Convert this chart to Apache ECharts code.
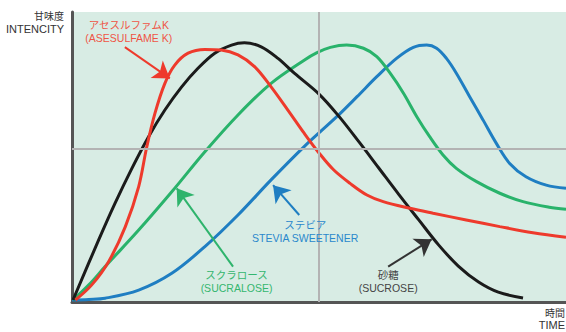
<!DOCTYPE html>
<html>
<head>
<meta charset="utf-8">
<script src="https://cdn.jsdelivr.net/npm/echarts@6/dist/echarts.min.js"></script>
<style>
  html, body { margin: 0; padding: 0; background: #ffffff; }
  #chart { width: 566px; height: 332px; }
</style>
</head>
<body>
<div id="chart"></div>
<script>
// Sweetness intensity over time, [time, intensity] on a 0–100 scale
const acesulfameK = [
  [0.7, 0.7], [4.0, 5.9], [7.4, 13.9], [10.8, 26.0], [13.5, 39.8], [15.1, 53.2], [16.8, 65.1],
  [18.8, 75.4], [20.8, 81.7], [23.5, 85.8], [26.9, 87.1], [30.2, 86.9], [33.6, 85.2],
  [37.0, 81.1], [40.3, 74.2], [43.7, 66.2], [47.0, 58.2], [50.0, 51.4], [53.0, 45.5],
  [56.3, 40.9], [59.7, 36.9], [63.0, 34.6], [68.4, 32.3], [73.1, 30.6], [79.8, 28.3],
  [86.6, 26.0], [93.3, 23.9], [100, 22.3]
];
const sucrose = [
  [0.2, 0.7], [5.4, 21.4], [8.7, 34.0], [12.1, 46.0], [15.5, 57.0], [18.8, 66.2],
  [22.2, 74.2], [25.5, 80.6], [28.9, 85.8], [32.3, 88.6], [34.9, 89.4], [38.3, 88.0],
  [41.7, 84.0], [45.0, 78.9], [50.0, 71.7], [54.0, 64.1], [58.1, 55.2], [62.1, 46.2],
  [66.1, 37.2], [70.2, 28.3], [74.2, 19.7], [78.2, 12.4], [82.3, 6.9], [86.3, 3.4], [91.3, 1.4]
];
const sucralose = [
  [0.2, 0.7], [3.4, 5.9], [6.7, 12.2], [13.5, 24.8], [20.2, 38.0], [26.9, 51.8], [33.6, 64.5],
  [40.3, 75.4], [47.0, 83.4], [49.6, 86.0], [52.3, 87.8], [55.6, 88.6], [59.0, 87.5],
  [61.7, 84.6], [64.4, 78.9], [67.1, 72.0], [69.8, 63.9], [72.4, 57.0], [75.1, 50.7],
  [77.8, 46.1], [81.9, 41.5], [86.6, 37.5], [91.3, 34.6], [96.6, 32.7], [100, 32.0]
];
const stevia = [
  [0, 0.7], [3.4, 0.9], [6.7, 1.3], [13.5, 4.1], [20.2, 9.9], [26.9, 19.1], [33.6, 30.0],
  [40.3, 42.1], [47.0, 53.6], [53.6, 63.9], [57.7, 70.8], [61.7, 77.7], [65.7, 84.0],
  [69.1, 87.8], [71.8, 88.6], [73.8, 87.5], [75.8, 84.0], [77.8, 78.9], [80.5, 70.8],
  [83.2, 62.8], [85.9, 54.7], [88.6, 47.8], [91.9, 43.2], [96.0, 40.3], [100, 39.2]
];

// Callout text, label anchor and pointer arrow (from → to) for each curve
const calloutText = {
  acesulfameK: ['アセスルファムK', '(ASESULFAME K)'],
  sucralose: ['スクラロース', '(SUCRALOSE)'],
  stevia: ['ステビア', 'STEVIA SWEETENER'],
  sucrose: ['砂糖', '(SUCROSE)']
};
const calloutAnchor = {
  acesulfameK: [11.5, 93.2],
  sucralose: [33.3, 7.2],
  stevia: [47.2, 24.3],
  sucrose: [64.0, 7.1]
};
const calloutArrow = {
  acesulfameK: [[10.7, 87.9], [19.8, 77.1]],
  sucralose: [[32.6, 12.2], [21.2, 39.2]],
  stevia: [[46.0, 30.0], [40.7, 40.3]],
  sucrose: [[64.0, 12.2], [72.8, 21.6]]
};
const midTime = 50;
const midIntensity = 53;

const FONT = '"Liberation Sans", "Noto Sans CJK JP", sans-serif';

function curve(name, data, lineColor, textColor, arrowColor) {
  const a = calloutArrow[name];
  return {
    type: 'line',
    name: name,
    data: data,
    smooth: 0.35,
    symbol: 'none',
    silent: true,
    lineStyle: { color: lineColor, width: 3 },
    markLine: {
      silent: true,
      symbol: ['none', 'arrow'],
      symbolSize: 16,
      label: { show: false },
      lineStyle: { color: arrowColor, width: 2, type: 'solid' },
      data: [[{ coord: a[0] }, { coord: a[1] }]]
    },
    markPoint: {
      silent: true,
      symbol: 'circle',
      symbolSize: 0,
      data: [{
        coord: calloutAnchor[name],
        label: {
          show: true,
          position: 'inside',
          formatter: calloutText[name].join('\n'),
          color: textColor,
          fontFamily: FONT,
          fontSize: 10.5,
          lineHeight: 12.8,
          align: 'center'
        }
      }]
    }
  };
}

const chart = echarts.init(document.getElementById('chart'), null, { renderer: 'svg' });

chart.setOption({
  animation: false,
  backgroundColor: '#ffffff',
  grid: {
    left: 72, top: 12, width: 496, height: 290,
    show: true, backgroundColor: '#d8ece4', borderWidth: 0
  },
  xAxis: {
    type: 'value', min: 0, max: 100,
    axisLine: { show: true, onZero: false, lineStyle: { color: '#555555', width: 3 } },
    axisTick: { show: false }, axisLabel: { show: false }, splitLine: { show: false }
  },
  yAxis: {
    type: 'value', min: 0, max: 100,
    axisLine: { show: true, onZero: false, lineStyle: { color: '#555555', width: 3 } },
    axisTick: { show: false }, axisLabel: { show: false }, splitLine: { show: false }
  },
  series: [
    {
      type: 'line', data: [], silent: true,
      markLine: {
        silent: true, symbol: 'none', label: { show: false },
        lineStyle: { color: '#b3b3b3', width: 2, type: 'solid' },
        data: [{ xAxis: midTime }, { yAxis: midIntensity }]
      }
    },
    curve('stevia', stevia, '#1f7ec2', '#2a88cc', '#1f7ec2'),
    curve('sucralose', sucralose, '#29b36b', '#34b66f', '#2eb46c'),
    curve('sucrose', sucrose, '#1b1b1b', '#444444', '#333333'),
    curve('acesulfameK', acesulfameK, '#ee3a2c', '#ef5446', '#ee3a2c')
  ],
  graphic: [
    { type: 'text', x: 64, y: 16, silent: true,
      style: { text: '甘味度', font: '10px ' + FONT, fill: '#333333', align: 'right', verticalAlign: 'middle' } },
    { type: 'text', x: 64, y: 29, silent: true,
      style: { text: 'INTENCITY', font: '11px ' + FONT, fill: '#333333', align: 'right', verticalAlign: 'middle' } },
    { type: 'text', x: 565, y: 313, silent: true,
      style: { text: '時間', font: '10px ' + FONT, fill: '#333333', align: 'right', verticalAlign: 'middle' } },
    { type: 'text', x: 565, y: 325, silent: true,
      style: { text: 'TIME', font: '11px ' + FONT, fill: '#333333', align: 'right', verticalAlign: 'middle' } }
  ]
});
</script>
</body>
</html>
